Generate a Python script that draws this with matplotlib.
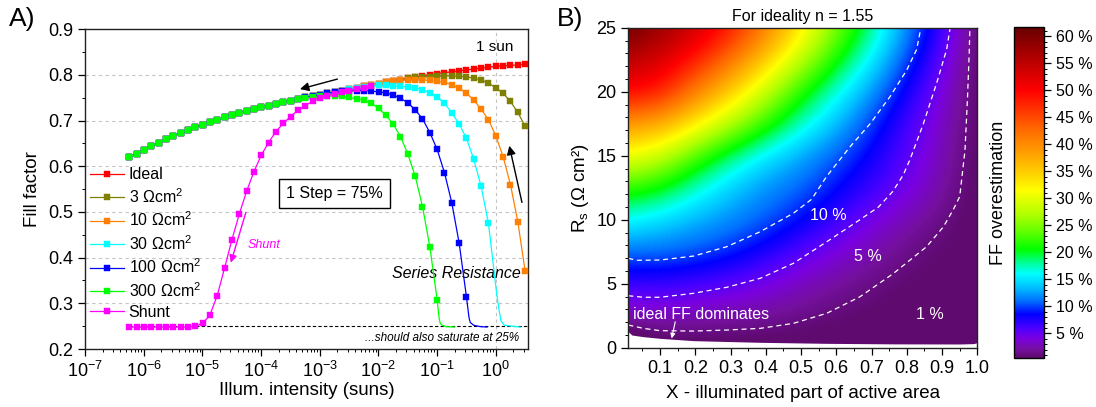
import matplotlib
matplotlib.use('Agg')
import matplotlib.pyplot as plt
from matplotlib.colors import LinearSegmentedColormap
from matplotlib.ticker import FixedLocator, MultipleLocator, LogLocator, NullFormatter, FixedFormatter

plt.rcParams['font.family'] = ['Liberation Sans', 'DejaVu Sans']
plt.rcParams['mathtext.fontset'] = 'custom'
plt.rcParams['mathtext.rm'] = 'Liberation Sans'
plt.rcParams['mathtext.it'] = 'Liberation Sans:italic'
plt.rcParams['mathtext.default'] = 'regular'

# ---------------- Panel A data ----------------
# illumination intensity (suns), steps of 75 %
intensity = [3.1605, 2.3704, 1.7778, 1.3333, 1.0, 0.75, 0.5625, 0.42188, 0.31641, 0.23730,
             0.17798, 0.13348, 0.10011, 0.075085, 0.056314, 0.042235, 0.031676, 0.023757, 0.017818, 0.013363,
             0.010023, 0.0075169, 0.0056377, 0.0042283, 0.0031712, 0.0023784, 0.0017838, 0.0013379, 0.0010034, 7.5254e-4,
             5.6441e-4, 4.2331e-4, 3.1748e-4, 2.3811e-4, 1.7858e-4, 1.3394e-4, 1.0045e-4, 7.5339e-5, 5.6505e-5, 4.2378e-5,
             3.1784e-5, 2.3838e-5, 1.7878e-5, 1.3409e-5, 1.0057e-5, 7.5424e-6, 5.6568e-6, 4.2426e-6, 3.1820e-6, 2.3865e-6,
             1.7899e-6, 1.3424e-6, 1.0068e-6, 7.5510e-7, 5.6632e-7]

ff_ideal = [0.824, 0.822, 0.821, 0.820, 0.819, 0.817, 0.815, 0.813, 0.811, 0.809,
            0.807, 0.805, 0.803, 0.801, 0.798, 0.796, 0.793, 0.790, 0.787, 0.784,
            0.781, 0.778, 0.775, 0.772, 0.769, 0.766, 0.763, 0.760, 0.757, 0.754,
            0.751, 0.747, 0.744, 0.740, 0.737, 0.733, 0.729, 0.725, 0.721, 0.716,
            0.712, 0.707, 0.702, 0.696, 0.691, 0.685, 0.679, 0.673, 0.667, 0.660,
            0.652, 0.644, 0.636, 0.628, 0.620]

ff_3 = [0.688, 0.718, 0.742, 0.760, 0.772, 0.782, 0.789, 0.793, 0.796, 0.797,
        0.798, 0.798, 0.797, 0.796, 0.796, 0.795, 0.793, 0.790, 0.787, 0.784,
        0.781, 0.778, 0.775, 0.772, 0.769, 0.766, 0.763, 0.760, 0.757, 0.754,
        0.751, 0.747, 0.744, 0.740, 0.737, 0.733, 0.729, 0.725, 0.721, 0.716,
        0.712, 0.707, 0.702, 0.696, 0.691, 0.685, 0.679, 0.673, 0.667, 0.660,
        0.652, 0.644, 0.636, 0.628, 0.620]

ff_10 = [0.371, 0.479, 0.560, 0.621, 0.667, 0.702, 0.725, 0.745, 0.760, 0.771,
         0.779, 0.784, 0.786, 0.788, 0.789, 0.789, 0.789, 0.788, 0.786, 0.784,
         0.781, 0.778, 0.775, 0.772, 0.769, 0.766, 0.763, 0.760, 0.757, 0.754,
         0.751, 0.747, 0.744, 0.740, 0.737, 0.733, 0.729, 0.725, 0.721, 0.716,
         0.712, 0.707, 0.702, 0.696, 0.691, 0.685, 0.679, 0.673, 0.667, 0.660,
         0.652, 0.644, 0.636, 0.628, 0.620]

# starts at 0.75 suns
ff_30 = [0.475, 0.556, 0.615, 0.661, 0.693,
         0.717, 0.738, 0.752, 0.761, 0.768, 0.772, 0.774, 0.775, 0.776, 0.777,
         0.777, 0.776, 0.774, 0.772, 0.769, 0.766, 0.763, 0.760, 0.757, 0.754,
         0.751, 0.747, 0.744, 0.740, 0.737, 0.733, 0.729, 0.725, 0.721, 0.716,
         0.712, 0.707, 0.702, 0.696, 0.691, 0.685, 0.679, 0.673, 0.667, 0.660,
         0.652, 0.644, 0.636, 0.628, 0.620]

# starts at 0.316 suns
ff_100 = [0.314, 0.432,
          0.520, 0.586, 0.637, 0.674, 0.704, 0.724, 0.739, 0.749, 0.756, 0.761,
          0.763, 0.765, 0.766, 0.766, 0.765, 0.764, 0.762, 0.760, 0.757, 0.754,
          0.751, 0.747, 0.744, 0.740, 0.737, 0.733, 0.729, 0.725, 0.721, 0.716,
          0.712, 0.707, 0.702, 0.696, 0.691, 0.685, 0.679, 0.673, 0.667, 0.660,
          0.652, 0.644, 0.636, 0.628, 0.620]

# starts at 0.1 suns
ff_300 = [0.308, 0.424, 0.512, 0.579, 0.627, 0.665, 0.693, 0.712,
          0.727, 0.738, 0.745, 0.748, 0.751, 0.753, 0.754, 0.754, 0.753, 0.752,
          0.750, 0.747, 0.744, 0.740, 0.737, 0.733, 0.729, 0.725, 0.721, 0.716,
          0.712, 0.707, 0.702, 0.696, 0.691, 0.685, 0.679, 0.673, 0.667, 0.660,
          0.652, 0.644, 0.636, 0.628, 0.620]

# starts at 0.0238 suns
ff_shunt = [0.775, 0.772, 0.769, 0.766, 0.762, 0.758, 0.754, 0.749, 0.742,
            0.733, 0.723, 0.709, 0.694, 0.676, 0.652, 0.624, 0.588, 0.545, 0.495,
            0.439, 0.377, 0.317, 0.274, 0.256, 0.250, 0.248, 0.248, 0.248, 0.248,
            0.248, 0.248, 0.248, 0.248, 0.248]

# line-only tails towards FF = 25 %
tail_300_x = [0.10011, 0.108, 0.113, 0.122, 0.14, 0.20]
tail_300_y = [0.308, 0.268, 0.256, 0.252, 0.249, 0.248]
tail_100_x = [0.31641, 0.350, 0.368, 0.419, 0.545, 0.709]
tail_100_y = [0.314, 0.268, 0.258, 0.252, 0.249, 0.248]
tail_30_x = [0.75, 1.02, 1.116, 1.225, 1.395, 2.61]
tail_30_y = [0.475, 0.328, 0.291, 0.262, 0.252, 0.248]

labels_A = ['Ideal', '3 Ωcm$^2$', '10 Ωcm$^2$', '30 Ωcm$^2$', '100 Ωcm$^2$', '300 Ωcm$^2$', 'Shunt']
colors_A = ['#ff0000', '#808000', '#ff8000', '#00ffff', '#0000ff', '#00ff00', '#ff00ff']

# ---------------- Panel B data ----------------
map_x = [0.0, 0.1, 0.2, 0.3, 0.4, 0.5, 0.6, 0.7, 0.8, 0.9, 1.0]
map_rs = [0, 2.5, 5, 7.5, 10, 12.5, 15, 17.5, 20, 22.5, 25]
map_ff = [
    [-2.0, -0.5, -0.3, -0.2, -0.2, -0.2, -0.1, -0.1, -0.05, -0.05, -0.05],
    [2.3, 2.8, 2.55, 2.3, 1.95, 1.4, 0.8, 0.45, 0.22, 0.1, 0.01],
    [6.6, 6.8, 6.2, 5.4, 4.2, 3.0, 2.0, 1.15, 0.55, 0.25, 0.03],
    [11.0, 11.0, 10.4, 9.4, 7.7, 5.6, 3.9, 2.6, 1.3, 0.55, 0.06],
    [16.0, 14.6, 13.1, 11.9, 10.6, 8.8, 6.6, 4.3, 2.6, 1.25, 0.1],
    [22.0, 20.5, 17.0, 14.0, 12.0, 10.8, 8.8, 6.6, 4.6, 2.2, 0.12],
    [31.0, 28.5, 23.0, 18.5, 15.0, 12.7, 10.5, 8.2, 5.5, 2.8, 0.15],
    [39.0, 37.5, 32.5, 27.0, 22.0, 17.0, 13.5, 9.7, 6.3, 3.3, 0.2],
    [50.0, 48.5, 41.0, 35.0, 28.0, 21.5, 16.5, 12.3, 8.0, 4.0, 0.2],
    [55.5, 53.0, 48.0, 42.0, 35.0, 27.5, 21.0, 15.3, 10.0, 5.3, 0.2],
    [62.0, 58.0, 54.0, 48.5, 41.5, 33.0, 25.0, 18.5, 12.0, 6.8, 0.2],
]

# boundary of the white region (ideal FF dominates)
white_x = [0.0, 0.01, 0.02, 0.053, 0.1, 0.195, 0.384, 0.573, 0.762, 0.95, 0.99, 1.0]
white_rs = [1.3, 1.25, 0.99, 0.86, 0.73, 0.55, 0.42, 0.34, 0.30, 0.29, 0.32, 0.40]

# iso-lines
c10_x = [0.01, 0.034, 0.1, 0.195, 0.289, 0.384, 0.478, 0.530, 0.573, 0.639, 0.696, 0.752, 0.800, 0.828, 0.840]
c10_rs = [6.98, 6.83, 6.85, 7.16, 7.89, 9.06, 10.5, 11.6, 13.4, 15.7, 17.5, 19.6, 21.7, 23.3, 25.0]
c5_x = [0.01, 0.053, 0.1, 0.195, 0.289, 0.384, 0.478, 0.573, 0.667, 0.72, 0.76, 0.79, 0.809, 0.847, 0.885, 0.913, 0.923]
c5_rs = [4.06, 3.94, 3.94, 4.25, 4.72, 5.42, 6.59, 8.28, 10.0, 11.0, 12.2, 13.5, 14.7, 17.5, 20.7, 23.3, 25.0]
c1_x = [0.01, 0.053, 0.1, 0.195, 0.289, 0.384, 0.478, 0.573, 0.667, 0.762, 0.856, 0.904, 0.932, 0.95, 0.965, 0.972, 0.977, 0.979]
c1_rs = [1.77, 1.51, 1.33, 1.30, 1.38, 1.51, 1.90, 2.69, 3.98, 5.80, 7.89, 9.45, 10.8, 11.8, 15.4, 19.4, 23.0, 25.0]

cbar_ticks = [5, 10, 15, 20, 25, 30, 35, 40, 45, 50, 55, 60]
cmap_vals = [0.48, 2, 4, 6, 8.5, 11, 13.5, 16, 18, 20.5, 24, 27, 31.5, 35, 39, 43, 46.5, 50, 54, 58, 61.7]
cmap_cols = ['#5e0a6e', '#74109e', '#7a00e0', '#4a00ff', '#0000ff', '#0070ff', '#00c0ff', '#00ffff',
             '#00ff99', '#00ff00', '#66ff00', '#b0ff00', '#ffff00', '#ffcc00', '#ff9900', '#ff6600',
             '#ff3300', '#ff0000', '#cc0000', '#990000', '#660000']
vmin, vmax = 0.48, 61.7

# ---------------- Figure ----------------
fig = plt.figure(figsize=(10.96, 4.07), dpi=100)

# ---- Panel A ----
ax = fig.add_axes([0.0776, 0.1425, 0.4039, 0.7855])
ax.set_xscale('log')
ax.set_xlim(1e-7, 3.5)
ax.set_ylim(0.2, 0.9)

grid_style = dict(color='#c4c4c4', lw=0.8, ls=(0, (3, 3)), zorder=0)
for gy in [0.3, 0.4, 0.5, 0.6, 0.7, 0.8]:
    ax.axhline(gy, **grid_style)
ax.axvline(1.0, **grid_style)
ax.plot([5.66e-7, 3.5], [0.25, 0.25], color='black', lw=0.8, ls=(0, (3, 2)), zorder=1)

series = [
    (intensity, ff_ideal),
    (intensity, ff_3),
    (intensity, ff_10),
    (intensity[5:], ff_30),
    (intensity[8:], ff_100),
    (intensity[12:], ff_300),
    (intensity[21:], ff_shunt),
]
for i, ((xs, ys), lab, col) in enumerate(zip(series, labels_A, colors_A)):
    ax.plot(xs, ys, '-', color=col, lw=0.9, marker='s', ms=3.8, mec=col, mew=0.3,
            label=lab, zorder=3 + i, clip_on=False)
ax.plot(tail_30_x, tail_30_y, '-', color=colors_A[3], lw=0.9, zorder=6)
ax.plot(tail_100_x, tail_100_y, '-', color=colors_A[4], lw=0.9, zorder=7)
ax.plot(tail_300_x, tail_300_y, '-', color=colors_A[5], lw=0.9, zorder=8)

ax.xaxis.set_major_locator(FixedLocator([1e-7, 1e-6, 1e-5, 1e-4, 1e-3, 1e-2, 1e-1, 1]))
ax.xaxis.set_major_formatter(FixedFormatter(['$10^{-7}$', '$10^{-6}$', '$10^{-5}$', '$10^{-4}$',
                                             '$10^{-3}$', '$10^{-2}$', '$10^{-1}$', '$10^{0}$']))
ax.xaxis.set_minor_locator(LogLocator(base=10, subs=[2, 3, 4, 5, 6, 7, 8, 9], numticks=20))
ax.xaxis.set_minor_formatter(NullFormatter())
ax.yaxis.set_major_locator(MultipleLocator(0.1))
ax.yaxis.set_minor_locator(MultipleLocator(0.05))
ax.yaxis.set_major_formatter(plt.FuncFormatter(lambda v, p: f'{v:.1f}'))
ax.tick_params(which='both', direction='out', top=False, right=False, labelsize=13)
ax.tick_params(which='major', length=5, width=0.9)
ax.tick_params(which='minor', length=2.5, width=0.7)
for s in ax.spines.values():
    s.set_linewidth(1.0)
    s.set_color('#222222')
ax.set_xlabel('Illum. intensity (suns)', fontsize=13.5, labelpad=1)
ax.set_ylabel('Fill factor', fontsize=13.5, labelpad=5)

leg = ax.legend(loc='upper left', bbox_to_anchor=(0.012, 0.568), frameon=False, fontsize=11.5,
                handlelength=2.1, handletextpad=0.3, labelspacing=0.3, borderpad=0, borderaxespad=0)

ax.text(0.95, 0.862, '1 sun', fontsize=11, ha='center', va='center')
ax.text(1.79e-3, 0.540, '1 Step = 75%', fontsize=11.5, ha='center', va='center',
        bbox=dict(boxstyle='square,pad=0.45', fc='white', ec='black', lw=1.0))
ax.text(0.213, 0.366, 'Series Resistance', fontsize=11.5, style='italic', ha='center', va='center')
ax.text(0.123, 0.224, '...should also saturate at 25%', fontsize=8.5, style='italic', ha='center', va='center')
ax.text(5.9e-5, 0.428, 'Shunt', fontsize=9, style='italic', color='#ff00ff', ha='left', va='center')
ax.annotate('', xy=(4.6e-4, 0.769), xytext=(2.0e-3, 0.791),
            arrowprops=dict(arrowstyle='-|>', color='black', lw=1.0, mutation_scale=13, shrinkA=0, shrinkB=0))
ax.annotate('', xy=(1.70, 0.645), xytext=(2.79, 0.521),
            arrowprops=dict(arrowstyle='-|>', color='black', lw=1.0, mutation_scale=13, shrinkA=0, shrinkB=0))
ax.annotate('', xy=(3.05e-5, 0.389), xytext=(5.5e-5, 0.499),
            arrowprops=dict(arrowstyle='-|>', color='#ff00ff', lw=1.0, mutation_scale=11, shrinkA=0, shrinkB=0))

fig.text(0.008, 0.982, 'A)', fontsize=19, ha='left', va='top')
fig.text(0.508, 0.982, 'B)', fontsize=19, ha='left', va='top')

# ---- Panel B ----
cmap = LinearSegmentedColormap.from_list(
    'ffover', [((v - vmin) / (vmax - vmin), c) for v, c in zip(cmap_vals, cmap_cols)], N=512)
cmap.set_under(cmap_cols[0])
cmap.set_over(cmap_cols[-1])

ax2 = fig.add_axes([0.5733, 0.1457, 0.3184, 0.7862])
img = ax2.imshow(map_ff, origin='lower', extent=(-0.05, 1.05, -1.25, 26.25), aspect='auto',
                 interpolation='bicubic', interpolation_stage='data', cmap=cmap, vmin=vmin, vmax=vmax,
                 zorder=1)
ax2.fill_between(white_x, -1, white_rs, color='white', lw=0, zorder=2)
dash = dict(color='white', lw=0.9, ls=(0, (4, 3)), zorder=3)
ax2.plot(c10_x, c10_rs, **dash)
ax2.plot(c5_x, c5_rs, **dash)
ax2.plot(c1_x, c1_rs, **dash)
ax2.set_xlim(0.01, 1.0)
ax2.set_ylim(0, 25)
ax2.xaxis.set_major_locator(FixedLocator([0.1, 0.2, 0.3, 0.4, 0.5, 0.6, 0.7, 0.8, 0.9, 1.0]))
ax2.xaxis.set_major_formatter(plt.FuncFormatter(lambda v, p: f'{v:.1f}'))
ax2.xaxis.set_minor_locator(FixedLocator([0.05, 0.15, 0.25, 0.35, 0.45, 0.55, 0.65, 0.75, 0.85, 0.95]))
ax2.yaxis.set_major_locator(MultipleLocator(5))
ax2.yaxis.set_minor_locator(MultipleLocator(1))
ax2.tick_params(which='both', direction='out', top=False, right=False, labelsize=13)
ax2.tick_params(which='major', length=5, width=0.9)
ax2.tick_params(which='minor', length=2.5, width=0.7)
for s in ax2.spines.values():
    s.set_linewidth(1.0)
    s.set_color('#222222')
    s.set_zorder(5)
ax2.set_xlabel('X - illuminated part of active area', fontsize=13.5, labelpad=6)
ax2.set_ylabel('R$_s$ (Ω cm²)', fontsize=13.5, labelpad=4)
ax2.set_title('For ideality n = 1.55', fontsize=11.5, pad=5)

ax2.text(0.577, 10.3, '10 %', color='white', fontsize=11.5, ha='center', va='center', zorder=4)
ax2.text(0.689, 7.1, '5 %', color='white', fontsize=11.5, ha='center', va='center', zorder=4)
ax2.text(0.866, 2.6, '1 %', color='white', fontsize=11.5, ha='center', va='center', zorder=4)
ax2.text(0.0245, 2.6, 'ideal FF dominates', color='white', fontsize=11.5, ha='left', va='center', zorder=4)
ax2.annotate('', xy=(0.133, 0.73), xytext=(0.143, 2.03),
             arrowprops=dict(arrowstyle='-|>', color='white', lw=0.8, mutation_scale=7, shrinkA=0, shrinkB=0),
             zorder=4)

cax = fig.add_axes([0.9255, 0.1211, 0.0274, 0.8118])
cb = fig.colorbar(img, cax=cax)
cb.set_ticks(cbar_ticks)
cb.set_ticklabels([f'{t} %' for t in cbar_ticks])
cax.yaxis.set_minor_locator(MultipleLocator(1))
cax.tick_params(which='both', direction='out', right=True, left=False, labelsize=11.5)
cax.tick_params(which='major', length=5, width=0.9)
cax.tick_params(which='minor', length=2.5, width=0.7)
cb.outline.set_linewidth(1.0)
cb.set_label('FF overestimation', fontsize=13)
cax.yaxis.set_label_position('left')
cax.yaxis.labelpad = 5

fig.savefig('out.png', dpi=100)
